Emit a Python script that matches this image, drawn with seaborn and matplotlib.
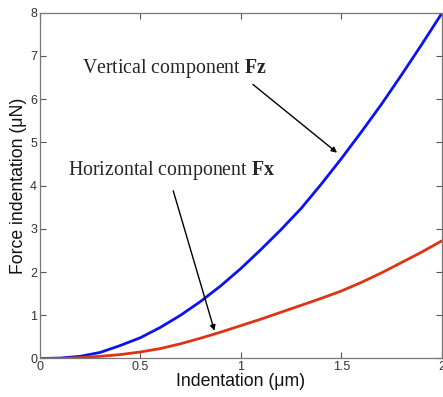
import numpy as np
import pandas as pd
import matplotlib
matplotlib.use("Agg")
import matplotlib.pyplot as plt
import seaborn as sns

indentation = [0.0, 0.1, 0.2, 0.3, 0.4, 0.5, 0.6, 0.7, 0.8, 0.9, 1.0,
               1.1, 1.2, 1.3, 1.4, 1.5, 1.6, 1.7, 1.8, 1.9, 2.0]
fz = [0.0, 0.01, 0.05, 0.14, 0.3, 0.48, 0.72, 1.0, 1.32, 1.68, 2.08,
      2.52, 2.98, 3.47, 4.03, 4.62, 5.24, 5.88, 6.56, 7.26, 7.98]
fx = [0.0, 0.0, 0.02, 0.05, 0.09, 0.15, 0.23, 0.34, 0.47, 0.61, 0.76,
      0.91, 1.07, 1.23, 1.39, 1.56, 1.76, 1.98, 2.22, 2.46, 2.72]
xticks = [0, 0.5, 1, 1.5, 2]
xticklabels = ["0", "0.5", "1", "1.5", "2"]
yticks = [0, 1, 2, 3, 4, 5, 6, 7, 8]

df = pd.DataFrame({
    "x": indentation * 2,
    "y": fz + fx,
    "comp": ["Fz"] * len(fz) + ["Fx"] * len(fx),
})

sns.set_theme(style="white")
plt.rcParams["font.family"] = ["Liberation Sans", "DejaVu Sans"]
plt.rcParams["mathtext.fontset"] = "custom"
plt.rcParams["mathtext.rm"] = "Liberation Serif"
plt.rcParams["mathtext.bf"] = "Liberation Serif:bold"

fig = plt.figure(figsize=(4.43, 3.97), dpi=100)
ax = fig.add_axes([0.090, 0.097, 0.907, 0.871])
sns.lineplot(data=df, x="x", y="y", hue="comp",
             palette={"Fz": "#0a14f0", "Fx": "#dc3414"},
             linewidth=2, ax=ax, legend=False)

ax.set_xlim(0, 2)
ax.set_ylim(0, 8)
ax.set_xticks(xticks)
ax.set_xticklabels(xticklabels)
ax.set_yticks(yticks)
ax.tick_params(direction="in", length=4, width=0.8, colors="#555555",
               top=True, right=True, bottom=True, left=True,
               labelsize=9, pad=2)
for lbl in ax.get_xticklabels() + ax.get_yticklabels():
    lbl.set_color("#333333")
for s in ax.spines.values():
    s.set_color("#777777")
    s.set_linewidth(0.9)
ax.set_xlabel("Indentation (\u03bcm)", fontsize=12.7, labelpad=0, color="#111111")
ax.set_ylabel("Force indentation (\u03bcN)", fontsize=12.7, labelpad=2, color="#111111")

serif = ["Liberation Serif", "DejaVu Serif"]
ax.text(0.209, 6.70, "Vertical component $\\mathbf{Fz}$", fontsize=14.3,
        family=serif, va="center", ha="left")
ax.text(0.139, 4.36, "Horizontal component $\\mathbf{Fx}$", fontsize=14.3,
        family=serif, va="center", ha="left")
ax.annotate("", xy=(1.49, 4.72), xytext=(1.05, 6.38),
            arrowprops=dict(arrowstyle="-|>", color="black", lw=1,
                            mutation_scale=8))
ax.annotate("", xy=(0.873, 0.58), xytext=(0.66, 3.94),
            arrowprops=dict(arrowstyle="-|>", color="black", lw=1,
                            mutation_scale=8))

fig.savefig("out.png", dpi=100)
